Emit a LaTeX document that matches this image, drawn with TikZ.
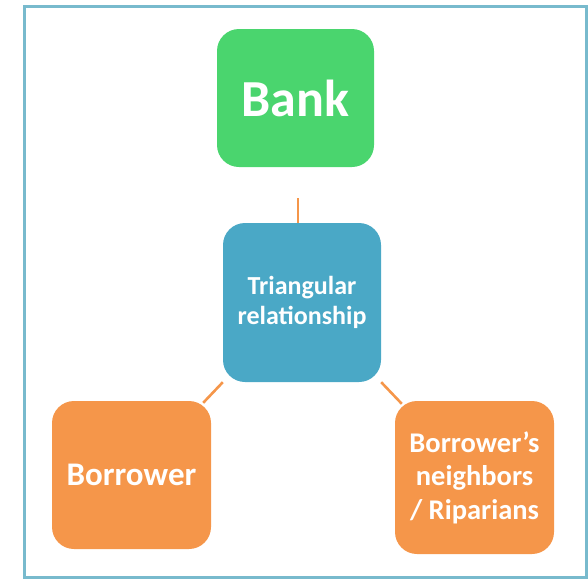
\documentclass[tikz,border=0pt]{standalone}
\usepackage{fontspec}
\setmainfont{Carlito}
\usetikzlibrary{calc}
\definecolor{bankgreen}{HTML}{4AD56E}
\definecolor{hubblue}{HTML}{4AA8C6}
\definecolor{partyorange}{HTML}{F5964A}
\definecolor{framecyan}{HTML}{78BACD}
\tikzset{
  box/.style={rounded corners=22pt, text=white, align=center, inner sep=0pt,
    font=\bfseries},
  link/.style={draw=partyorange, line width=2.6pt}
}
\begin{document}
\begin{tikzpicture}[x=1pt, y=-1pt]
  \useasboundingbox (0,0) rectangle (588,579);
  % outer frame
  \draw[framecyan, line width=3pt] (24,6) rectangle (586.3,577.8);
  % boxes
  \node[box, fill=bankgreen, minimum width=157pt, minimum height=138pt,
        font=\bfseries\fontsize{52}{60}\selectfont] (bank) at (295.5,98) {Bank};
  \node[box, fill=hubblue, minimum width=158pt, minimum height=159pt,
        font=\bfseries\fontsize{26}{30}\selectfont] (hub) at (302,302.5)
        {Triangular\\relationship};
  \node[box, fill=partyorange, minimum width=159pt, minimum height=148pt,
        font=\bfseries\fontsize{33}{40}\selectfont] (borrower) at (131.5,475) {Borrower};
  \node[box, fill=partyorange, minimum width=159pt, minimum height=153pt,
        font=\bfseries\fontsize{28.5}{33.5}\selectfont] (neighbors) at (474.5,477.5)
        {Borrower’s\\neighbors\\/ Riparians};
  % connectors
  \draw[link, shorten >=25pt] ($(hub.north)+(-4,0)$) -- ($(hub.north -| bank.south)+(2.5,0)$);
  \draw[link] (hub.south west) -- ($(borrower.north east)+(-8,2)$);
  \draw[link] (hub.south east) -- ($(neighbors.north west)+(7,3)$);
\end{tikzpicture}
\end{document}
